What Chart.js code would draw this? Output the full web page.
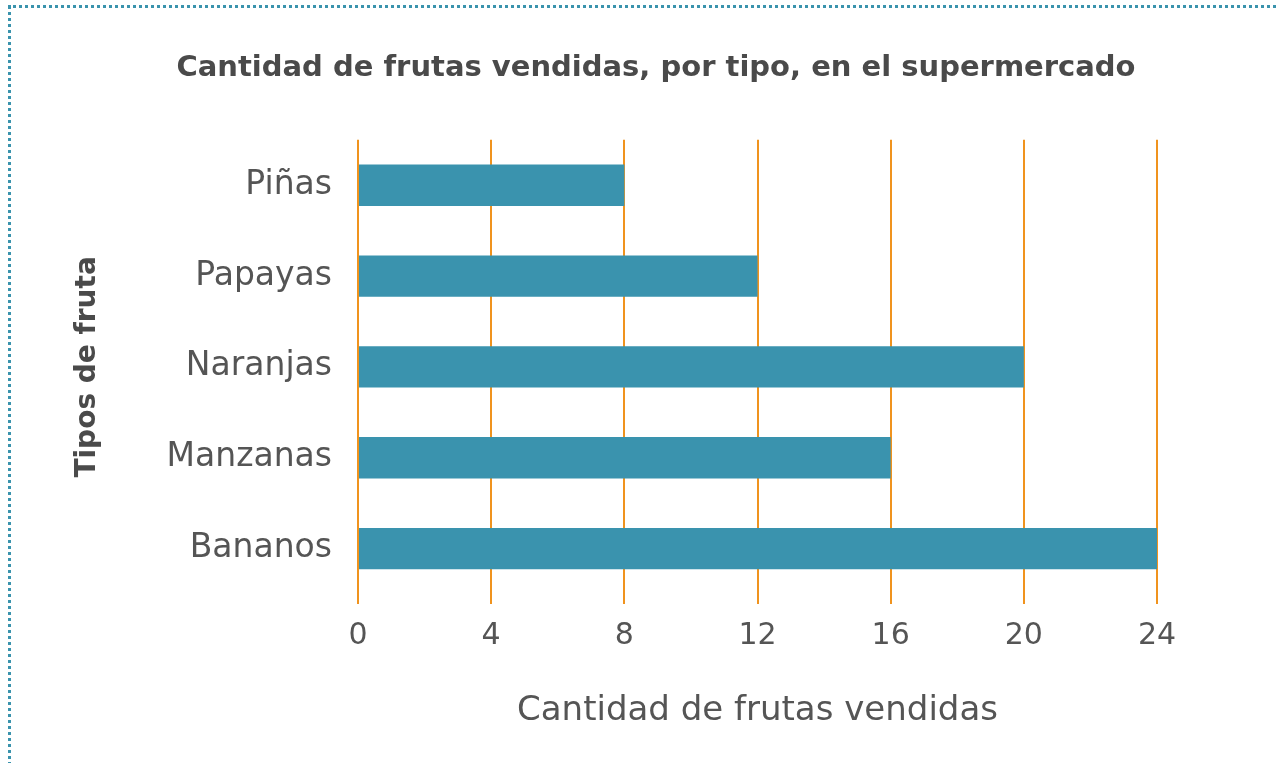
<!DOCTYPE html>
<html lang="es">
<head>
<meta charset="utf-8">
<title>Cantidad de frutas vendidas</title>
<script src="https://cdn.jsdelivr.net/npm/chart.js@4.4.1/dist/chart.umd.min.js"></script>
<style>
    html, body { margin: 0; padding: 0; background: #ffffff; overflow: hidden; }
    #wrap { position: relative; width: 1276px; height: 763px; }
    #frame { /* dotted frame, only top and left edges are inside the window */
        position: absolute; left: 8px; top: 5px; width: 1400px; height: 900px;
        border: 3px dotted #3a93ad; box-sizing: border-box;
    }
    canvas { position: absolute; left: 0; top: 0; }
</style>
</head>
<body>
<div id="wrap">
    <div id="frame"></div>
    <canvas id="fruitChart" width="1276" height="763"></canvas>
</div>
<script>
// Data
const fruitTypes = ['Piñas', 'Papayas', 'Naranjas', 'Manzanas', 'Bananos'];
const fruitsSold = [8, 12, 20, 16, 24];
const xTicks = [0, 4, 8, 12, 16, 20, 24];

const fontFamily = "'DejaVu Sans', sans-serif";
const textColor = '#555555';
const gridColor = '#f0931e';

document.addEventListener('DOMContentLoaded', () => {
    const ctx = document.getElementById('fruitChart').getContext('2d');
    new Chart(ctx, {
        type: 'bar',
        data: {
            labels: fruitTypes,
            datasets: [{
                data: fruitsSold,
                backgroundColor: '#3a93ae',
                borderWidth: 0,
                categoryPercentage: 1,
                barPercentage: 0.455
            }]
        },
        options: {
            indexAxis: 'y',
            responsive: false,
            animation: false,
            // left padding keeps the chart title centred where the reference has it
            layout: { padding: { top: 0, left: 155, right: 119, bottom: 0 } },
            plugins: {
                legend: { display: false },
                tooltip: { enabled: false },
                title: {
                    display: true,
                    text: 'Cantidad de frutas vendidas, por tipo, en el supermercado',
                    color: '#4a4a4a',
                    font: { family: fontFamily, size: 29, weight: 'bold' },
                    padding: { top: 51, bottom: 54 }
                }
            },
            scales: {
                x: {
                    min: 0,
                    max: 24,
                    afterBuildTicks: (scale) => { scale.ticks = xTicks.map(v => ({ value: v })); },
                    afterFit: (scale) => { scale.height = 169; },
                    border: { display: false },
                    grid: { color: gridColor, lineWidth: 2, drawTicks: true, tickLength: 10 },
                    ticks: { color: textColor, padding: 14, font: { family: fontFamily, size: 30 } },
                    title: {
                        display: true,
                        text: 'Cantidad de frutas vendidas',
                        color: textColor,
                        font: { family: fontFamily, size: 34 },
                        padding: { top: 0, bottom: 31 }
                    }
                },
                y: {
                    afterFit: (scale) => { scale.width = 203; },
                    border: { display: false },
                    grid: { display: false, drawTicks: false },
                    ticks: { color: textColor, padding: 26, font: { family: fontFamily, size: 33 } },
                    title: {
                        display: true,
                        text: 'Tipos de fruta',
                        color: '#4a4a4a',
                        font: { family: fontFamily, size: 28, weight: 'bold' },
                        padding: { top: -84, bottom: 0 } // pulls the axis title out into the left margin
                    }
                }
            }
        }
    });
});
</script>
</body>
</html>
